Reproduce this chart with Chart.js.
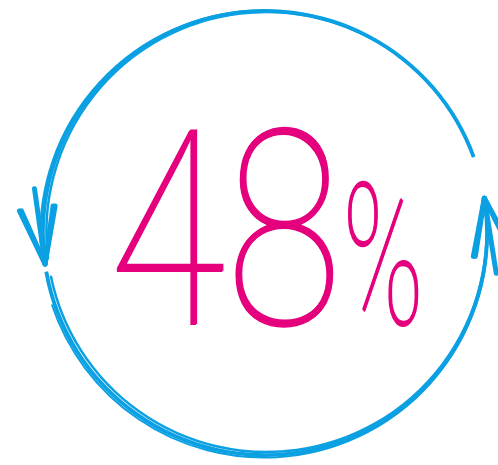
<!DOCTYPE html>
<html>
<head>
<meta charset="utf-8">
<script src="https://cdn.jsdelivr.net/npm/chart.js@4/dist/chart.umd.min.js"></script>
<style>
html,body{margin:0;padding:0;background:#fff;}
#wrap{width:498px;height:465px;}
</style>
</head>
<body>
<div id="wrap"><canvas id="ringChart"></canvas></div>
<script>
/* ---------- DATA ---------- */

const segmentLabels = ["gap right", "lower arrow", "gap left", "upper arrow"];
const segmentDegrees = [11, 179, 2, 168];
const arrowSegments = [1, 3];
const percentValue = 48;
const percentSuffix = "%";

const BLUE = "#0ba0e2";
const PINK = "#e5007d";

/* ---------- SKETCH PLUGIN ---------- */

const sketchPlugin = {
id: "sketch",
afterDatasetsDraw(chart) {
const ctx = chart.ctx;
const meta = chart.getDatasetMeta(0);
ctx.save();
ctx.strokeStyle = BLUE;
ctx.lineCap = "round";
ctx.lineJoin = "round";
arrowSegments.forEach(i => {
const arc = meta.data[i];
const r = (arc.outerRadius + arc.innerRadius) / 2;
// second pass of the pen
ctx.lineWidth = 2.5;
ctx.beginPath();
ctx.arc(arc.x + 1.5, arc.y - 1, r - 2, arc.startAngle + 0.02, arc.endAngle - 0.03);
ctx.stroke();
ctx.lineWidth = 2;
ctx.beginPath();
ctx.arc(arc.x - 1, arc.y + 1, r + 1.5, arc.startAngle + 0.1, arc.endAngle - 0.15);
ctx.stroke();
// arrowhead at start angle, pointing counter-clockwise
const a = arc.startAngle;
const tip = {x: arc.x + r * Math.cos(a), y: arc.y + r * Math.sin(a)};
const dir = {x: Math.sin(a), y: -Math.cos(a)};
const nrm = {x: -dir.y, y: dir.x};
const L = 56, W = 18;
ctx.lineWidth = 5;
[[1, 0], [-1, 0], [1, 2], [-1, -2]].forEach(([s, j]) => {
ctx.beginPath();
ctx.moveTo(tip.x - L * dir.x + s * W * nrm.x + j, tip.y - L * dir.y + s * W * nrm.y);
ctx.lineTo(tip.x, tip.y);
ctx.stroke();
});
ctx.beginPath();
ctx.moveTo(tip.x - (L + 20) * dir.x, tip.y - (L + 20) * dir.y);
ctx.lineTo(tip.x, tip.y);
ctx.stroke();
});
ctx.restore();
},
afterDraw(chart) {
const ctx = chart.ctx;
ctx.save();
ctx.fillStyle = PINK;
ctx.textBaseline = "alphabetic";
ctx.textAlign = "left";
const fam = "100 {s}px Roboto, 'DejaVu Sans', sans-serif";
function fitText(txt, left, right, top, base) {
ctx.font = fam.replace("{s}", 100);
let m = ctx.measureText(txt);
const size = 100 * (base - top) / m.actualBoundingBoxAscent;
ctx.font = fam.replace("{s}", size.toFixed(1));
m = ctx.measureText(txt);
const w = m.actualBoundingBoxRight + m.actualBoundingBoxLeft;
const sx = (right - left) / w;
ctx.save();
ctx.translate(left, base);
ctx.scale(sx, 1);
ctx.fillText(txt, m.actualBoundingBoxLeft, 0);
ctx.fillText(txt, m.actualBoundingBoxLeft + 1.5, -1);
ctx.restore();
}
fitText(String(percentValue), 115, 335, 128, 325);
fitText(percentSuffix, 348, 418, 180, 325);
ctx.restore();
}
};

/* ---------- CHART ---------- */

const ringCtx = document.getElementById("ringChart").getContext("2d");

const ringChart = new Chart(ringCtx, {
type: "doughnut",
data: {
labels: segmentLabels,
datasets: [{
data: segmentDegrees,
backgroundColor: segmentDegrees.map((d, i) => arrowSegments.includes(i) ? BLUE : "rgba(0,0,0,0)"),
borderWidth: 0
}]
},
options: {
responsive: true,
maintainAspectRatio: false,
animation: false,
rotation: 70,
cutout: "98.3%",
layout: {padding: {left: 41, right: 9, top: 9, bottom: 8}},
plugins: {
legend: {display: false},
tooltip: {enabled: false}
}
},
plugins: [sketchPlugin]
});
</script>
</body>
</html>
